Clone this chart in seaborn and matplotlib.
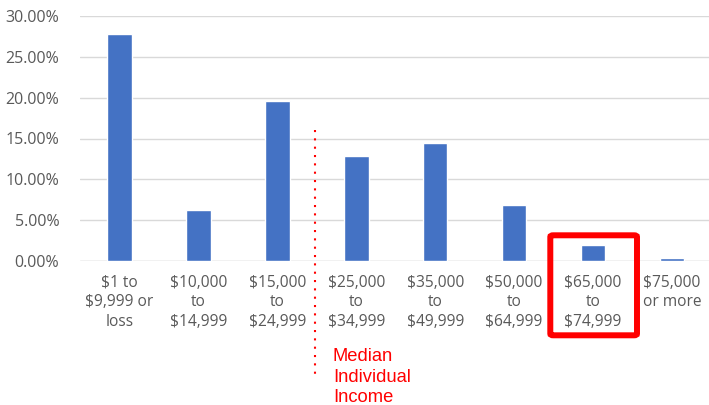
import matplotlib
matplotlib.use("Agg")
import matplotlib.pyplot as plt
import seaborn as sns
import pandas as pd
from matplotlib.patches import FancyBboxPatch
from matplotlib.ticker import FuncFormatter

categories = ["$1 to\n$9,999 or\nloss", "$10,000\nto\n$14,999", "$15,000\nto\n$24,999",
              "$25,000\nto\n$34,999", "$35,000\nto\n$49,999", "$50,000\nto\n$64,999",
              "$65,000\nto\n$74,999", "$75,000\nor more"]
values = [27.8, 6.2, 19.6, 12.9, 14.4, 6.9, 2.0, 0.4]
y_ticks = [0, 5, 10, 15, 20, 25, 30]
median_label = "Median\nIndividual\nIncome"

sns.set_theme(style="white")
plt.rcParams['font.family'] = ['Open Sans', 'DejaVu Sans']

df = pd.DataFrame({"cat": categories, "val": values})

W, H = 709, 405
fig = plt.figure(figsize=(W / 100, H / 100), dpi=100)
ax = fig.add_axes([80 / W, (H - 261) / H, 631.5 / W, 245 / H])

sns.barplot(data=df, x="cat", y="val", color="#4472C4", width=0.31,
            saturation=1, ax=ax, zorder=3)
ax.set_xlim(-0.5, 7.5)
ax.set_ylim(0, 30)
ax.set_yticks(y_ticks)
ax.yaxis.set_major_formatter(FuncFormatter(lambda v, p: f"{v:.2f}%"))
ax.set_xlabel("")
ax.set_ylabel("")
for s in ax.spines.values():
    s.set_visible(False)
ax.grid(axis="y", color="#d9d9d9", linewidth=1, zorder=0)
ax.axhline(0, color="#d9d9d9", linewidth=1, zorder=1)
ax.tick_params(axis="both", length=0, colors="#595959")
ax.tick_params(axis="y", pad=15, labelsize=11.5)
ax.tick_params(axis="x", pad=10, labelsize=11.2)
for lbl in ax.get_xticklabels():
    lbl.set_linespacing(1.3)

# dotted median line
ypp = 30 / 245
x_med = (315 - 80.25) / 78.9 - 0.5
ax.plot([x_med, x_med], [(261 - 130) * ypp, (261 - 380) * ypp], color="red",
        linestyle=(0, (1, 3)), linewidth=1.5, clip_on=False, zorder=4)

fig.text(333 / W, 1 - 348 / H, median_label, color="red", fontsize=13.2,
         family="Liberation Sans", va="top", ha="left", linespacing=1.27)

# red highlight box
box = FancyBboxPatch((550.3 / W, 1 - 335.3 / H), (637 - 550.3) / W, (335.3 - 235.3) / H,
                     boxstyle="round,pad=0,rounding_size=0.004", transform=fig.transFigure,
                     fill=False, edgecolor="red", linewidth=4.3, zorder=5)
fig.patches.append(box)

fig.savefig("out.png", dpi=100)
